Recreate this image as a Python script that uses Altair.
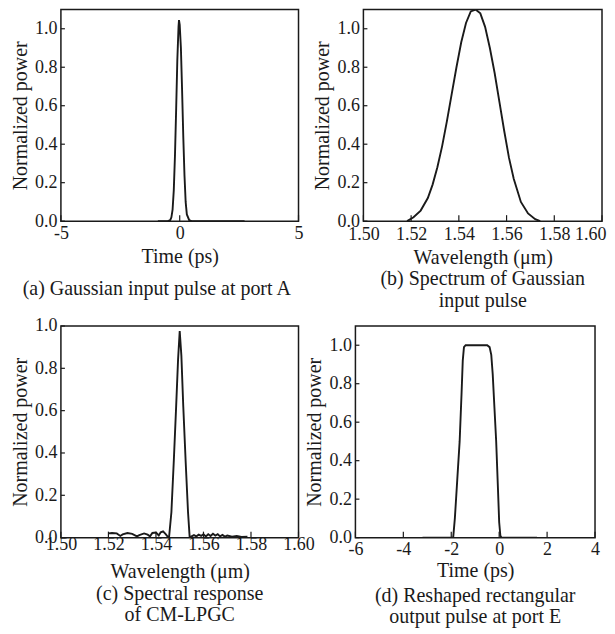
import altair as alt
import pandas as pd

# ---------------- data ----------------
# (a) Gaussian input pulse at port A
a_time = [-0.92, -0.5, -0.4, -0.35, -0.3, -0.25, -0.2, -0.15, -0.1, -0.05, -0.03,
          0.0, 0.05, 0.1, 0.15, 0.2, 0.25, 0.3, 0.4, 0.5, 1.0, 2.0, 2.73]
a_power = [0.0, 0.0, 0.005, 0.02, 0.06, 0.16, 0.34, 0.58, 0.84, 1.01, 1.045,
           1.02, 0.90, 0.68, 0.44, 0.24, 0.10, 0.035, 0.005, 0.0, 0.0, 0.0, 0.0]

# (b) Spectrum of Gaussian input pulse
b_wl = [1.5183, 1.521, 1.524, 1.527, 1.529, 1.531, 1.533, 1.535, 1.537, 1.539, 1.541,
        1.543, 1.545, 1.547, 1.549, 1.551, 1.553, 1.555, 1.557, 1.559, 1.561, 1.563,
        1.566, 1.569, 1.572, 1.5741]
b_power = [0.0, 0.02, 0.055, 0.12, 0.19, 0.28, 0.39, 0.52, 0.66, 0.80, 0.93,
           1.03, 1.09, 1.10, 1.08, 1.01, 0.90, 0.77, 0.62, 0.47, 0.33, 0.22,
           0.10, 0.04, 0.01, 0.0]

# (c) Spectral response of CM-LPGC
c_wl = [1.5200, 1.5215, 1.5235, 1.5250, 1.5260, 1.5280, 1.5300, 1.5320, 1.5330, 1.5350,
        1.5365, 1.5375, 1.5385, 1.5400, 1.5412, 1.5420, 1.5430, 1.5440, 1.5450, 1.5455,
        1.5465, 1.5475, 1.5485, 1.5493, 1.5500, 1.5507, 1.5515, 1.5525, 1.5535, 1.5542,
        1.5550, 1.5560, 1.5570, 1.5580, 1.5590, 1.5600, 1.5610, 1.5620, 1.5630, 1.5640,
        1.5650, 1.5660, 1.5670, 1.5680, 1.5690, 1.5700, 1.5720, 1.5740, 1.5760, 1.5785]
c_power = [0.020, 0.022, 0.020, 0.008, 0.015, 0.022, 0.018, 0.006, 0.012, 0.020,
           0.014, 0.006, 0.022, 0.024, 0.010, 0.025, 0.030, 0.018, 0.004, 0.0,
           0.12, 0.36, 0.62, 0.84, 0.976, 0.86, 0.62, 0.36, 0.12, 0.0,
           0.006, 0.012, 0.006, 0.014, 0.008, 0.016, 0.006, 0.016, 0.008, 0.018,
           0.010, 0.016, 0.006, 0.013, 0.005, 0.010, 0.004, 0.008, 0.003, 0.004]

# (d) Reshaped rectangular output pulse at port E
d_time = [-3.2, -2.0, -1.92, -1.85, -1.75, -1.65, -1.57, -1.52, -1.47, -1.4, -1.0,
          -0.5, -0.4, -0.33, -0.27, -0.2, -0.125, -0.05, 0.0, 0.05, 0.1, 0.5, 1.58]
d_power = [0.0, 0.0, 0.0, 0.1, 0.3, 0.5, 0.75, 0.92, 0.99, 1.0, 1.0,
           1.0, 0.99, 0.95, 0.85, 0.68, 0.5, 0.25, 0.08, 0.01, 0.0, 0.0, 0.0]

a_xticks = [-5, 0, 5]
wl_xticks = [1.50, 1.52, 1.54, 1.56, 1.58, 1.60]
d_xticks = [-6, -4, -2, 0, 2, 4]
y_ticks = [0.0, 0.2, 0.4, 0.6, 0.8, 1.0]

FONT = "Liberation Serif"
INK = "#1a1a1a"


def panel(xs, ys, xdomain, xticks, ymax, xtitle, caption, width, height,
          label_pad, xfmt, cap_offset, cap_frame, title_pad, last_right=False):
    df = pd.DataFrame({"x": xs, "y": ys})
    xscale = alt.Scale(domain=xdomain, nice=False, zero=False)
    yscale = alt.Scale(domain=[0, ymax], nice=False, zero=False)
    if xfmt == "int":
        lab = "datum.value < 0 ? '-' + format(-datum.value, 'd') : format(datum.value, 'd')"
    else:
        lab = "format(datum.value, '.2f')"
    extra = {}
    if last_right:
        extra["labelAlign"] = alt.condition("datum.value >= 1.599", alt.value("right"), alt.value("center"))
        extra["labelOffset"] = alt.condition("datum.value >= 1.599", alt.value(4), alt.value(0))
    xaxis = alt.Axis(values=xticks, labelExpr=lab, title=xtitle, tickSize=0,
                     domain=False, grid=False, labelPadding=label_pad,
                     titlePadding=title_pad, labelFlush=False, **extra)
    yaxis = alt.Axis(values=y_ticks, format=".1f", title="Normalized power",
                     tickSize=0, domain=False, grid=False, labelPadding=4,
                     titlePadding=4)
    line = alt.Chart(df).mark_line(color=INK, strokeWidth=1.9, clip=True).encode(
        x=alt.X("x:Q", scale=xscale, axis=xaxis),
        y=alt.Y("y:Q", scale=yscale, axis=yaxis),
    )
    xt = alt.Chart(pd.DataFrame({"t": xticks})).mark_rule(color=INK, strokeWidth=1.2).encode(
        x=alt.X("t:Q", scale=xscale),
        y=alt.value(height), y2=alt.value(height - 6),
    )
    yt = alt.Chart(pd.DataFrame({"t": y_ticks})).mark_rule(color=INK, strokeWidth=1.2).encode(
        y=alt.Y("t:Q", scale=yscale),
        x=alt.value(0), x2=alt.value(4),
    )
    return alt.layer(line, xt, yt).properties(
        width=width, height=height,
        title=alt.TitleParams(text=caption, orient="bottom", anchor="middle",
                              frame=cap_frame, offset=cap_offset, font=FONT,
                              fontSize=20, fontWeight="normal", lineHeight=22,
                              color=INK),
    )


pa = panel(a_time, a_power, [-5, 5], a_xticks, 1.1, "Time (ps)",
           ["(a) Gaussian input pulse at port A"], 238, 212, 3, "int", 13, "bounds", 4)
pb = panel(b_wl, b_power, [1.50, 1.60], wl_xticks, 1.1, "Wavelength (μm)",
           ["(b) Spectrum of Gaussian", "input pulse"], 239, 212, 4, "f", 2, "group", 4,
           last_right=True)
pc = panel(c_wl, c_power, [1.50, 1.60], wl_xticks, 1.0, "Wavelength (μm)",
           ["(c) Spectral response", "of CM-LPGC"], 238, 212, -2, "f", 2, "group", 8)
pd_ = panel(d_time, d_power, [-6, 4], d_xticks, 1.1, "Time (ps)",
            ["(d) Reshaped rectangular", "output pulse at port E"], 240, 212, 3, "int", 5, "group", 2)

chart = alt.vconcat(
    alt.hconcat(pa, pb, spacing=65, bounds="flush"),
    alt.hconcat(pc, pd_, spacing=57, bounds="flush"),
    spacing=4,
).properties(
    padding={"left": 1, "top": 0, "right": 0, "bottom": 0},
    background="white",
).configure_view(
    stroke=INK, strokeWidth=1.5,
).configure_axis(
    labelFont=FONT, titleFont=FONT, labelFontSize=18, titleFontSize=20,
    titleFontWeight="normal", labelColor=INK, titleColor=INK,
)

chart.save("out.html", embed_options={"renderer": "svg", "actions": False})
